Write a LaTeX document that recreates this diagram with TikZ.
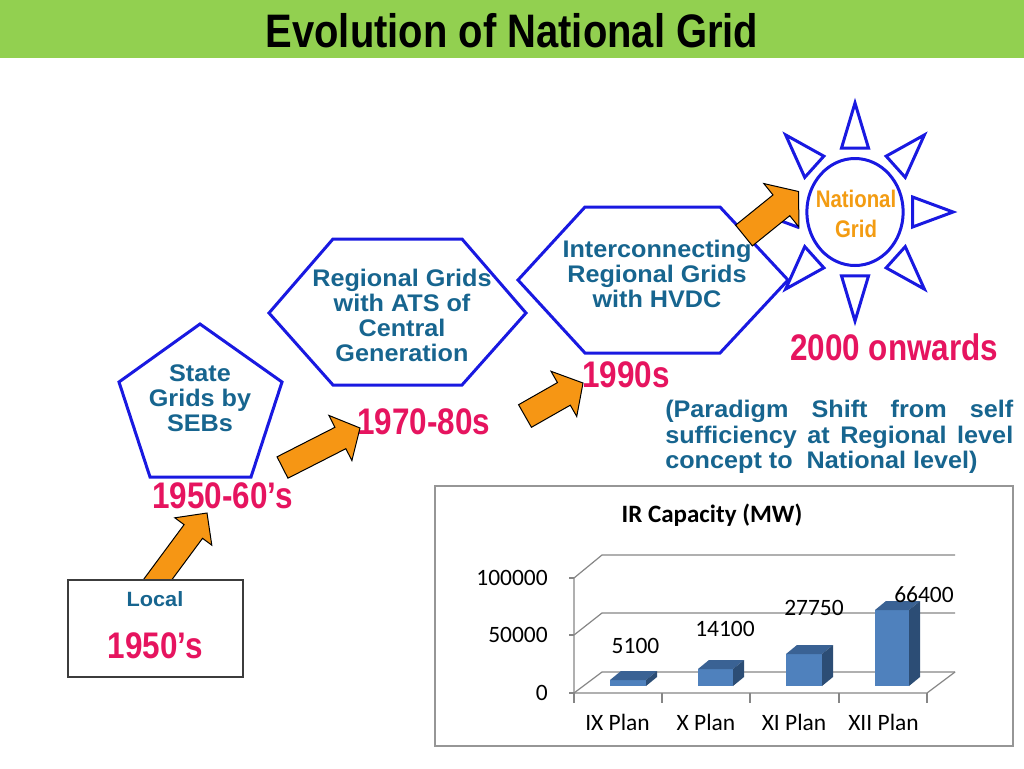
\documentclass[tikz,border=0pt]{standalone}
\usepackage{fontspec}
\setmainfont{Liberation Sans}
\newfontfamily\tealfont[FakeStretch=1.05]{Liberation Sans}
\newfontfamily\narrowfont[FakeStretch=0.85]{Liberation Sans}
\newfontfamily\calib{Carlito}
\usetikzlibrary{calc}
\definecolor{bandc}{RGB}{146,208,80}
\definecolor{gblue}{RGB}{25,25,225}
\definecolor{tealc}{RGB}{23,101,143}
\definecolor{pinkc}{RGB}{230,20,95}
\definecolor{orangec}{RGB}{246,150,20}
\definecolor{natc}{RGB}{243,156,18}
\definecolor{gridc}{RGB}{134,134,134}
\definecolor{framec}{RGB}{150,150,150}
\definecolor{boxc}{RGB}{60,60,60}
\definecolor{barfront}{RGB}{79,129,189}
\definecolor{bartop}{RGB}{58,98,148}
\definecolor{barside}{RGB}{44,77,117}
\tikzset{
  outl/.style={draw=gblue, line width=2.25pt, line join=miter},
  tealtxt/.style={text=tealc, font=\tealfont\bfseries\fontsize{18}{18.75}\selectfont, inner sep=0pt},
  year/.style={text=pinkc, font=\narrowfont\bfseries\fontsize{27.75}{28}\selectfont, inner sep=0pt, anchor=base west},
  titlesty/.style={text=black, font=\narrowfont\bfseries\fontsize{35.25}{36}\selectfont, inner sep=0pt},
  natsty/.style={text=natc, font=\narrowfont\bfseries\fontsize{18}{22.5}\selectfont, inner sep=0pt},
  arrowsty/.style={fill=orangec, draw=black, line width=0.75pt, line join=miter},
  gridl/.style={draw=gridc, line width=0.9pt},
  ctext/.style={font=\calib\fontsize{17.6}{18}\selectfont, inner sep=0pt, text=black},
  ctitle/.style={font=\calib\bfseries\fontsize{18.75}{19}\selectfont, inner sep=0pt, text=black},
}
\newcommand{\blockarr}[5]{%
  \coordinate (ba-h) at ($(#2)!#5!(#1)$);
  \filldraw[arrowsty] ($(#1)!#3!90:(#2)$) -- ($(ba-h)!#3!90:(#2)$) -- ($(ba-h)!#4!90:(#2)$) -- (#2)
    -- ($(ba-h)!#4!-90:(#2)$) -- ($(ba-h)!#3!-90:(#2)$) -- ($(#1)!#3!-90:(#2)$) -- cycle;}
\newcommand{\cbar}[3]{%
  \fill[barfront] (#1,#3) rectangle (#2,686);
  \fill[bartop] (#1,#3) -- (#1+11,#3-9) -- (#2+11,#3-9) -- (#2,#3) -- cycle;
  \fill[barside] (#2,#3) -- (#2+11,#3-9) -- (#2+11,677) -- (#2,686) -- cycle;}
\begin{document}
\begin{tikzpicture}[x=0.75pt,y=-0.75pt]
\useasboundingbox (0,0) rectangle (1024,768);
\fill[white] (0,0) rectangle (1024,768);
% title band
\fill[bandc] (0,0) rectangle (1024,58);
\node[titlesty, anchor=base] (title) at (512,47) {Evolution of National Grid};

% pentagon
\draw[outl] (200,324) -- (282,382) -- (251,477) -- (150,477) -- (119,382) -- cycle;
\node[tealtxt, anchor=base, align=center] (state) at (200,431) {State\\Grids by\\SEBs};

% hexagon 1
\draw[outl] (269,313) -- (333,239) -- (462,239) -- (526,313) -- (462,385) -- (333,385) -- cycle;
\node[tealtxt, anchor=base, align=center] (regional) at (402,361) {Regional Grids\\with ATS of\\Central\\Generation};

% hexagon 2
\draw[outl] (518,280) -- (585,207) -- (720,207) -- (788,280) -- (720,353) -- (585,353) -- cycle;
\node[tealtxt, anchor=base, align=center] (interconn) at (657,307) {Interconnecting\\Regional Grids\\with HVDC};

% sun
\begin{scope}[shift={(855,212)}, xscale=0.9]
  \draw[outl] (0,0) circle (53.5);
  \foreach \a in {0,45,...,315}
    \draw[outl] (\a:109) -- (\a+13.2:65.7) -- (\a-13.2:65.7) -- cycle;
\end{scope}
\node[natsty, anchor=base, align=center] (natgrid) at (856,237) {National\\Grid};

% years
\node[year] (y1) at (152,508) {1950-60’s};
\node[year] (y2) at (357,434) {1970-80s};
\node[year] (y3) at (582,387) {1990s};
\node[year] (y4) at (790,360) {2000 onwards};

% paradigm text
\node[tealtxt, anchor=base west] (par1) at (665,417) {\makebox[261pt][s]{(Paradigm Shift from self}};
\node[tealtxt, anchor=base west] (par2) at (665,443) {\makebox[261pt][s]{sufficiency at Regional level}};
\node[tealtxt, anchor=base west] (par3) at (665,468) {concept to~ National level)};

% arrows
\coordinate (a1t) at (150,590); \coordinate (a1h) at (207,513);
\blockarr{a1t}{a1h}{8.6pt}{17.25pt}{17.25pt}
\coordinate (a2t) at (282.5,467.5); \coordinate (a2h) at (360,428);
\blockarr{a2t}{a2h}{9pt}{19pt}{16.5pt}
\coordinate (a3t) at (525,416); \coordinate (a3h) at (583,383);
\blockarr{a3t}{a3h}{9.75pt}{19.5pt}{16.5pt}
\coordinate (a4t) at (744,235.5); \coordinate (a4h) at (798.5,191.5);
\blockarr{a4t}{a4h}{10pt}{21pt}{16.5pt}

% local box
\draw[draw=boxc, line width=1.1pt, fill=white] (68,580) rectangle (243,677);
\node[tealtxt, font=\tealfont\bfseries\fontsize{15.5}{16}\selectfont, anchor=base] (local) at (155,606) {Local};
\node[year, anchor=base] (y0) at (155.5,658) {1950’s};

% chart
\draw[draw=framec, line width=0.9pt] (435,486) rectangle (1013,746);
\node[ctitle, anchor=base] (charttitle) at (712,522) {IR Capacity (MW)};
\foreach \yb/\yf in {555/578, 613/635, 672/693}{
  \draw[gridl] (574,\yf) -- (602,\yb) -- (955,\yb);
  \draw[gridl] (569,\yf) -- (574,\yf);
}
\draw[gridl] (574,578) -- (574,693) -- (927,693) -- (955,672);
\foreach \xt in {574,662,750,839,927}
  \draw[gridl] (\xt,693) -- (\xt,703);
\cbar{610}{646}{680}
\cbar{698}{733}{669}
\cbar{786}{822}{654}
\cbar{875}{909}{610}
\node[ctext, anchor=base east] (l100) at (548,585.5) {100000};
\node[ctext, anchor=base east] (l50) at (548,642.5) {50000};
\node[ctext, anchor=base east] (l0) at (548,700.5) {0};
\node[ctext, anchor=base] (v1) at (635.5,653) {5100};
\node[ctext, anchor=base] (v2) at (725,636) {14100};
\node[ctext, anchor=base] (v3) at (814,615) {27750};
\node[ctext, anchor=base] (v4) at (924,602) {66400};
\node[ctext, anchor=base] (c1) at (617.5,730) {IX Plan};
\node[ctext, anchor=base] (c2) at (706,730) {X Plan};
\node[ctext, anchor=base] (c3) at (794,730) {XI Plan};
\node[ctext, anchor=base] (c4) at (883.5,730) {XII Plan};
\end{tikzpicture}
\end{document}
